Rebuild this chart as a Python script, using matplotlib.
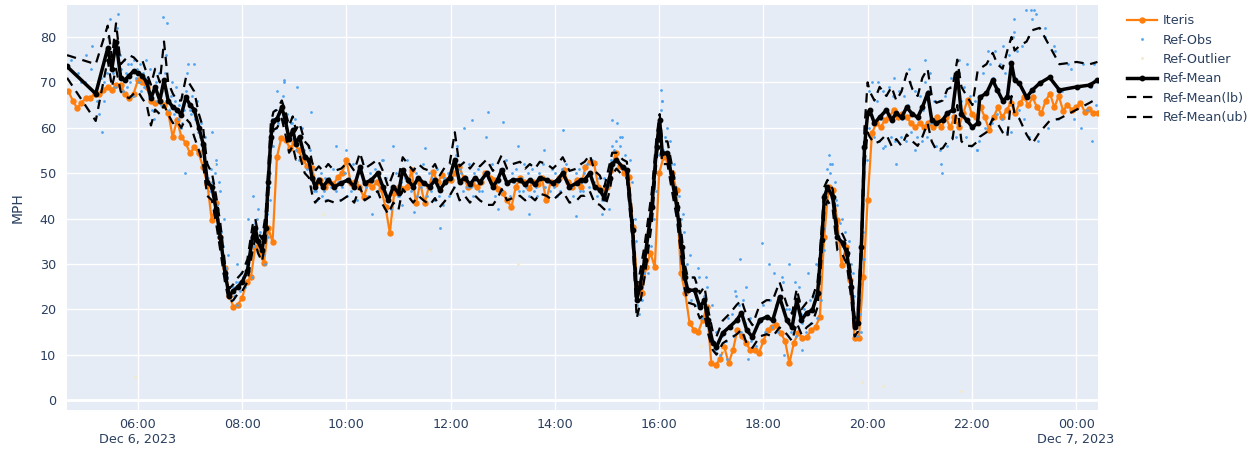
import numpy as np
import matplotlib
matplotlib.use("Agg")
import matplotlib.pyplot as plt
from matplotlib.lines import Line2D

plt.rcParams['font.family'] = ['DejaVu Sans']

# ---------------- DATA (hours since Dec 6, 2023 00:00) ----------------
# Iteris: 5-minute series from 04:40 to 00:25
iteris_start = 4 + 40 / 60
iteris_step = 5 / 60
iteris_vals = [
    68, 66, 64.3, 65.5,
    66.5, 66.5, 67.5, 67.5, 68.3, 69, 68.3, 69.4, 69.4, 67.5, 66.5, 67.5,
    70.5, 70, 69, 66, 65.4, 66, 65, 63.2, 58, 61.7, 58, 56.6,
    54.4, 55.7, 54.4, 51.3, 47.5, 39.6, 43.4, 36, 29, 23, 20.5, 21,
    22.5, 26, 27, 33.7, 32.4, 30.2, 37.9, 34.8, 53.5, 57.7, 57.3, 55.5,
    56.6, 55, 52.9, 51.5, 51.1, 47.8, 48.5, 46.9, 48, 47.5, 49.1, 50,
    52.9, 47.8, 48, 47, 44.7, 47.8, 46.9, 48, 46.5, 42.5, 36.8, 45.6,
    46.9, 46.5, 47, 50.7, 43.4, 47.8, 43.4, 47, 50.2, 48, 49.5, 48.5,
    48.5, 50, 51.3, 49, 46.9, 47.5, 47, 48, 50, 49, 48.5, 46.5,
    45.6, 44, 42.5, 47, 48.9, 48, 46.7, 48, 47.5, 49, 44, 48,
    47.5, 49, 50.7, 48, 47, 48.5, 47, 51.3, 52.5, 52.2, 47, 46.3,
    47, 50.7, 54.4, 51.5, 50, 49.1, 38.1, 24.9, 23.6, 29.3, 32.4, 29.3,
    50, 53.5, 52.9, 50, 46.3, 28, 23.6, 17, 15.5, 15, 17.6, 20.5,
    8.1, 7.7, 9, 11.7, 8.1, 11, 15.4, 14, 12.6, 11, 11, 10.4,
    13, 15.4, 16.1, 16.5, 14.8, 13, 8.1, 12.5, 14.8, 13.7, 13.9, 15.4,
    16.1, 18.3, 35.9, 46.9, 46.3, 39.6, 29.7, 33.7, 26.4, 13.7, 13.7, 27.1,
    44, 58.8, 61, 60.1, 61.7, 62.3, 63.9, 62.3, 63, 62.3, 61, 60.1,
    61, 60.1, 61, 60.1, 62.3, 60.1, 62.3, 60.1, 62.3, 60.1, 63.2, 66.1,
    63, 62.3, 64.5, 62.3, 59.5, 62.3, 64.5, 62.3, 63.9, 65.5, 63.2, 65.4,
    66.7, 65, 66.7, 64.5, 63.2, 66, 67.5, 64.5, 67, 63.8, 65, 64,
    64.5, 65.5, 63.5, 64.2, 63.2, 63.2,
]

mean_t = [
    4.64, 5.19, 5.42, 5.50, 5.58, 5.67, 5.75, 5.83, 5.92, 6.00,
    6.08, 6.17, 6.25, 6.33, 6.42, 6.50, 6.58, 6.67, 6.75, 6.83,
    6.92, 7.00, 7.08, 7.17, 7.25, 7.33, 7.42, 7.50, 7.58, 7.67,
    7.75, 7.83, 7.92, 8.00, 8.10, 8.20, 8.25, 8.30, 8.38, 8.45,
    8.50, 8.55, 8.60, 8.67, 8.76, 8.83, 8.90, 8.97, 9.03, 9.10,
    9.20, 9.28, 9.34, 9.40, 9.47, 9.55, 9.65, 9.77, 9.90, 10.03,
    10.15, 10.26, 10.35, 10.48, 10.60, 10.70, 10.80, 10.90, 11.00, 11.08,
    11.18, 11.28, 11.38, 11.48, 11.60, 11.70, 11.79, 11.90, 11.98, 12.08,
    12.17, 12.27, 12.37, 12.47, 12.56, 12.69, 12.81, 12.90, 12.98, 13.08,
    13.19, 13.33, 13.43, 13.52, 13.62, 13.71, 13.84, 13.96, 14.05, 14.15,
    14.28, 14.42, 14.50, 14.57, 14.67, 14.76, 14.86, 14.95, 15.05, 15.10,
    15.18, 15.30, 15.38, 15.49, 15.57, 15.63, 15.72, 15.86, 15.95, 16.01,
    16.06, 16.16, 16.24, 16.34, 16.43, 16.49, 16.55, 16.68, 16.78, 16.87,
    16.93, 17.03, 17.10, 17.22, 17.35, 17.49, 17.58, 17.68, 17.79, 17.93,
    18.06, 18.18, 18.31, 18.45, 18.55, 18.64, 18.73, 18.83, 18.94, 19.04,
    19.12, 19.17, 19.23, 19.33, 19.42, 19.52, 19.60, 19.69, 19.75, 19.81,
    19.88, 19.94, 20.00, 20.04, 20.13, 20.23, 20.36, 20.46, 20.55, 20.65,
    20.75, 20.86, 20.96, 21.05, 21.15, 21.23, 21.32, 21.44, 21.53, 21.63,
    21.72, 21.80, 21.90, 22.01, 22.11, 22.15, 22.28, 22.40, 22.49, 22.59,
    22.68, 22.76, 22.82, 22.91, 23.05, 23.16, 23.30, 23.49, 23.68, 24.01,
    24.26, 24.41,
]
mean_v = [
    73.5, 67.5, 77.5, 73.0, 79.0, 71.0, 70.5, 71.5, 72.5, 72.0,
    71.5, 70.0, 66.5, 69.0, 66.0, 70.5, 66.0, 64.5, 64.0, 62.8,
    66.7, 65.0, 64.0, 60.0, 56.5, 48.0, 47.0, 42.0, 36.0, 28.0,
    23.0, 24.0, 25.0, 26.0, 28.5, 36.0, 38.0, 35.0, 33.0, 38.0,
    48.0, 58.0, 61.5, 62.0, 64.5, 61.5, 57.5, 59.5, 56.5, 58.0,
    53.5, 53.0, 49.0, 47.0, 48.5, 47.0, 48.5, 47.0, 47.8, 48.5,
    47.0, 51.3, 47.8, 48.5, 50.0, 47.0, 44.0, 47.0, 45.6, 50.7,
    48.5, 47.0, 49.0, 47.8, 47.0, 48.5, 46.3, 48.0, 49.0, 53.0,
    48.0, 49.0, 47.5, 49.0, 48.0, 50.0, 47.0, 48.5, 50.7, 47.8,
    48.5, 48.5, 47.5, 48.5, 47.5, 49.0, 48.5, 47.8, 48.5, 50.0,
    47.0, 47.8, 48.5, 48.5, 50.0, 47.0, 46.3, 44.5, 49.0, 52.0,
    52.9, 51.3, 50.7, 37.4, 22.0, 24.9, 30.8, 42.5, 55.7, 61.7,
    54.4, 54.4, 49.1, 42.5, 33.7, 27.1, 24.2, 24.2, 20.5, 22.0,
    17.6, 12.6, 11.7, 14.8, 16.1, 17.6, 19.2, 15.4, 13.9, 17.6,
    18.3, 17.6, 22.7, 17.6, 16.0, 22.0, 17.6, 19.2, 19.8, 23.5,
    35.2, 44.7, 46.9, 44.7, 35.9, 34.6, 32.4, 24.9, 16.1, 17.0,
    33.7, 55.7, 63.2, 63.9, 61.0, 62.3, 63.9, 61.7, 63.2, 62.3,
    64.5, 63.0, 62.3, 64.5, 67.6, 61.7, 61.0, 61.7, 63.2, 63.9,
    72.0, 63.0, 61.7, 60.1, 61.0, 66.7, 67.6, 70.5, 68.3, 66.0,
    66.7, 74.2, 70.5, 69.8, 66.7, 68.3, 69.8, 71.1, 68.3, 69.0,
    69.4, 70.5,
]
mean_lb = [
    71, 61.5, 75, 69, 73, 68, 67, 66.5, 67.5, 68,
    66.5, 65, 60.5, 64, 63, 65, 63, 61, 61.5, 60,
    62, 61, 58, 55, 52, 45, 44, 39, 33, 26,
    21.5, 22, 23.5, 24, 26, 33, 35.5, 32.5, 30.5, 35,
    45, 55, 59.5, 60, 62, 58.5, 54.5, 56, 53, 54,
    50, 49, 45.5, 43.5, 44.5, 43.5, 44, 43.5, 44, 45,
    43.5, 47, 44, 45, 46, 43, 41, 43.5, 42, 46.5,
    45, 43.5, 45, 44, 43, 44.5, 42.5, 44, 45, 47,
    44, 45, 43.5, 45, 44, 43, 43, 44.5, 46.5, 44,
    44.5, 45, 44, 45, 44, 45.5, 45, 44, 45, 46,
    43.5, 44, 45, 45, 46, 43.5, 43, 42, 46, 49.5,
    51, 49.5, 49, 35, 18, 21, 27, 39, 53, 59.5,
    52, 52, 46.5, 40, 31, 24.5, 21.5, 21, 18, 19,
    15, 11, 10, 12.5, 13.5, 14.5, 15.5, 12.5, 11.5, 14,
    14.5, 14, 16, 14.5, 13, 17, 14.5, 16, 17, 20.5,
    32, 42, 44, 42, 33, 32, 30, 22, 14, 15,
    31, 52, 59, 58, 56.5, 57, 58.5, 56, 57.5, 56,
    58.5, 57, 56, 58, 61, 57, 55, 55.5, 57, 57.5,
    65, 57, 56, 56, 57, 58, 59, 62, 61, 59,
    58, 67, 63, 62, 58.5, 56.5, 59, 61.5, 62, 64,
    65.5, 66.5,
]
mean_ub = [
    76, 74, 82.5, 75.5, 83, 74, 75, 76, 75.5, 74.5,
    75, 72, 69.5, 73, 70, 79, 70, 67.5, 66, 66,
    71, 69.5, 68, 63, 60, 52, 50, 45, 39, 30,
    24.5, 25.5, 27, 28, 31, 38.5, 40, 37, 35.5, 41,
    51, 61, 63.5, 64, 66, 63.5, 60.5, 62.5, 59.5, 61,
    57, 56, 52.5, 50.5, 51.5, 50.5, 52, 50.5, 51, 52.5,
    50.5, 54.5, 51, 52, 53, 50.5, 47, 50, 49, 53.5,
    52, 50.5, 52, 51, 50.5, 52, 49.5, 51.5, 52, 59,
    51.5, 52.5, 51, 52.5, 51.5, 53, 50.5, 52, 54, 51,
    52, 52.5, 51, 52, 51, 52.5, 52, 51, 52, 53.5,
    50.5, 51, 52, 52.5, 54, 50.5, 49.5, 47, 52, 54.5,
    54.5, 53, 52.5, 40, 25, 28, 34, 46, 58, 63,
    57, 57, 52, 45.5, 36.5, 30, 27, 27, 23.5, 25,
    20.5, 15, 14, 17.5, 19, 21, 22, 18.5, 16.5, 21,
    22, 22, 26, 21, 19, 24.5, 20, 21.5, 22.5, 26,
    38, 47, 48.5, 46.5, 38, 36.5, 34.5, 27, 18, 19,
    36, 60, 70, 68, 66, 69, 67, 69, 66, 68,
    72, 68.5, 67, 71, 73, 67, 65.5, 66, 68.5, 69,
    75, 69, 67, 65, 72.5, 73, 74, 76.5, 74, 73,
    77, 80, 77, 78, 79, 81.5, 82, 78, 74, 74.5,
    74, 74.5,
]

# Ref-Obs: individual observations, grouped by the Ref-Mean interval they fall in
obs_groups = [
    [75, 72, 70, 78], [66, 63, 59, 70, 72], [80, 84, 74], [72, 76, 69], [82, 85, 76],
    [73, 68, 75], [72, 69, 74], [70, 74, 67], [75, 71, 73], [70, 74, 68],
    [72, 69, 75], [71, 67, 73], [64, 68, 62], [70, 66, 72], [65, 68, 84.5],
    [72, 76, 83], [64, 67, 70], [63, 66, 69], [62, 65, 60], [61, 64, 67],
    [68, 72, 74, 64], [63, 67, 74], [62, 66, 59], [58, 61, 55], [55, 58, 52],
    [49, 46, 51], [48, 45, 50, 52], [43, 40, 46], [37, 34, 40], [29, 27, 32],
    [23, 22, 25], [23, 26, 21], [26, 24, 28], [27, 25, 30], [29, 31, 27],
    [36, 38, 34, 39], [38, 40, 36], [35, 37, 33], [32, 35, 30], [38, 41, 36],
    [47, 50, 44], [58, 62, 56], [62, 64, 60, 68], [61, 63, 66], [64, 67, 70, 62],
    [60, 63, 58], [58, 55, 61, 61], [60, 57, 62], [55, 58, 53], [57, 60, 55],
    [54, 51, 56], [52, 55, 50], [49, 46, 51], [46, 44, 49], [48, 50, 45],
    [46, 49, 44, 52], [49, 47, 51], [46, 48, 44], [47, 50, 45], [49, 46, 52],
    [47, 44, 50], [51, 53, 48], [47, 45, 50], [48, 51, 46], [50, 48, 53],
    [46, 49, 44], [44, 42, 47], [47, 50, 45], [45, 48, 43], [51, 49, 53],
    [48, 46, 51], [47, 50, 45], [49, 47, 52], [48, 45, 50], [46, 49, 44],
    [48, 51, 45], [46, 43, 49], [48, 50, 45], [49, 52, 47], [54, 56, 51],
    [48, 50, 46, 60], [49, 47, 52], [47, 45, 50], [49, 51, 46], [48, 46, 50, 58],
    [50, 48, 52], [47, 45, 49], [48, 51, 46], [51, 49, 53], [48, 45, 50],
    [48, 51, 46], [49, 46, 52], [47, 50, 45], [48, 51, 46], [47, 45, 50],
    [49, 52, 47], [48, 46, 51], [47, 50, 45], [48, 46, 51], [50, 52, 47],
    [47, 45, 50], [48, 51, 46], [48, 46, 50], [49, 52, 47], [50, 53, 48],
    [47, 45, 49], [46, 44, 49], [44, 47, 42], [50, 53, 56], [52, 55, 57],
    [53, 56, 58], [51, 54, 49], [50, 53, 48], [37, 40, 35], [21, 24, 19],
    [25, 22, 28], [31, 28, 34], [43, 40, 46], [56, 58, 54], [62, 64, 66],
    [55, 58, 60], [54, 57, 52], [49, 52, 47], [42, 45, 40], [34, 31, 37],
    [27, 25, 30], [24, 22, 27], [24, 21, 27], [21, 18, 23], [22, 20, 25],
    [18, 15, 21], [13, 11, 15], [12, 10, 14], [15, 13, 18], [16, 19, 14, 23],
    [18, 21, 15], [19, 22, 17, 25], [15, 18, 13], [14, 12, 17], [18, 21, 15],
    [18, 22, 16], [18, 21, 15], [23, 26, 20], [17, 20, 15], [16, 19, 14],
    [22, 25, 19], [17, 20, 15], [19, 22, 17], [20, 23, 18], [24, 27, 22],
    [35, 38, 33], [45, 48, 51], [47, 50, 52], [45, 48, 43], [36, 39, 34],
    [35, 37, 32], [32, 35, 30], [25, 28, 23], [16, 18, 14], [17, 19, 15],
    [34, 37, 31], [56, 60, 53], [63, 68, 60], [64, 70, 58], [61, 66, 57],
    [62, 68, 56], [64, 69, 58], [62, 67, 57, 52], [63, 68, 58], [62, 67, 57],
    [65, 70, 59], [63, 68, 58], [62, 67, 57], [64, 70, 58], [68, 72, 61],
    [62, 66, 56], [61, 66, 55, 50], [62, 67, 56], [63, 69, 58], [64, 69, 58],
    [72, 75, 66], [63, 69, 58], [62, 67, 56], [60, 66, 55], [61, 67, 57],
    [67, 72, 60], [68, 74, 61], [71, 77, 63], [68, 74, 62], [66, 72, 59],
    [67, 76, 59], [74, 80, 84], [71, 77, 64], [70, 78, 62, 86], [67, 80, 58, 86, 84],
    [68, 85, 57], [70, 82, 60], [71, 78, 62], [68, 74, 62], [69, 74, 64],
    [69, 74, 65], [70, 74, 66],
]
# additional scattered observations (time, value)
obs_extra_t = [
    4.90, 5.00, 5.10, 5.30, 5.35, 6.90, 7.42, 7.50, 7.55, 7.90,
    8.12, 8.20, 8.30, 8.80, 9.05, 9.33, 9.60, 9.80, 10.00, 10.50,
    10.70, 10.90, 11.30, 11.50, 11.79, 12.40, 12.71, 12.90, 13.00, 13.30,
    13.50, 13.80, 14.15, 14.40, 14.90, 15.10, 15.20, 15.25, 16.03, 16.05,
    16.45, 16.60, 16.75, 16.90, 17.30, 17.45, 17.55, 17.70, 17.98, 18.10,
    18.20, 18.35, 18.40, 18.50, 18.60, 18.75, 18.85, 19.00, 19.25, 19.28,
    19.40, 19.50, 20.20, 20.30, 20.50, 20.80, 20.90, 21.10, 21.40, 21.60,
    21.90, 22.10, 22.30, 22.60, 22.80, 23.20, 23.40, 23.60, 23.90, 24.10,
    24.30,
]
obs_extra_v = [
    70, 76, 73, 71, 66, 50, 59, 53, 48, 30,
    40, 45, 42, 70.5, 69, 63.5, 44, 56, 55, 41,
    53, 56, 41.5, 55.5, 38, 61.7, 63.4, 42, 61.2, 56,
    41, 55, 59.5, 40.5, 41, 61.7, 61, 58, 68.3, 66,
    41, 32, 29, 27, 9, 24, 31, 9, 34.6, 30,
    28, 27, 10, 30, 26, 11, 28, 30, 54, 52,
    44, 40, 70, 55.5, 71, 73, 55, 75, 52, 71,
    74, 55, 77, 78, 81, 86, 80, 77, 73, 60,
    57,
]

# Ref-Outlier: a few rejected observations
outlier_t = [5.95, 7.45, 9.55, 10.9, 11.6, 13.3, 16.8, 17.2, 19.9, 20.3, 21.8]
outlier_v = [5, 52, 41, 40, 33, 30, 12, 11, 4, 3, 2]

xtick_pos = [6, 8, 10, 12, 14, 16, 18, 20, 22, 24]
xtick_lab = ["06:00\nDec 6, 2023", "08:00", "10:00", "12:00", "14:00", "16:00",
             "18:00", "20:00", "22:00", "00:00\nDec 7, 2023"]
ytick_pos = [0, 10, 20, 30, 40, 50, 60, 70, 80]

# ---------------- FIGURE ----------------
TXT = '#2a3f5f'
BG = '#e5ecf6'
ORANGE = '#ff7f0e'
BLUE = '#4fa3f0'
PALE = '#f4e9c4'

fig = plt.figure(figsize=(12.55, 4.5), dpi=100)
ax = fig.add_axes([67 / 1255, 1 - 410 / 450, (1098 - 67) / 1255, 405 / 450])
ax.set_facecolor(BG)
for s in ax.spines.values():
    s.set_visible(False)

iteris_t = iteris_start + iteris_step * np.arange(len(iteris_vals))

# obs positions spread inside each mean interval
obs_t, obs_v = [], []
for i, grp in enumerate(obs_groups):
    t0 = mean_t[i]
    t1 = mean_t[i + 1] if i + 1 < len(mean_t) else t0 + 0.1
    n = len(grp)
    for j, v in enumerate(grp):
        obs_t.append(t0 + (j + 0.5) / n * (t1 - t0))
        obs_v.append(v)
obs_t += obs_extra_t
obs_v += obs_extra_v

DASH = (4.2, 3.0)

ax.plot(iteris_t, iteris_vals, color=ORANGE, lw=1.6, marker='o', ms=3.6,
        mec=ORANGE, mfc=ORANGE, zorder=3)
ax.plot(obs_t, obs_v, ls='none', marker='o', ms=2.0, color=BLUE, mec='none', zorder=4)
ax.plot(outlier_t, outlier_v, ls='none', marker='o', ms=2.0, color=PALE, mec='none', zorder=4)
ax.plot(mean_t, mean_v, color='black', lw=2.5, marker='o', ms=3.2, zorder=6)
ax.plot(mean_t, mean_lb, color='black', lw=1.6, dashes=DASH, zorder=5)
ax.plot(mean_t, mean_ub, color='black', lw=1.6, dashes=DASH, zorder=5)

ax.set_xlim(4.639, 24.42)
ax.set_ylim(-2.2, 87.05)
ax.set_xticks(xtick_pos)
ax.set_xticklabels(xtick_lab)
ax.set_yticks(ytick_pos)
ax.grid(True, color='white', lw=1.0)
ax.axhline(0, color='white', lw=2.0, zorder=1)
ax.set_axisbelow(True)
ax.tick_params(axis='both', length=0, colors=TXT, labelsize=9.2)
ax.tick_params(axis='x', pad=6)
ax.tick_params(axis='y', pad=8)
ax.set_ylabel('MPH', color=TXT, fontsize=10, labelpad=11)

handles = [
    Line2D([], [], color=ORANGE, lw=1.6, marker='o', ms=3.6),
    Line2D([], [], ls='none', marker='o', ms=2.0, color=BLUE, mec='none'),
    Line2D([], [], ls='none', marker='o', ms=2.0, color=PALE, mec='none'),
    Line2D([], [], color='black', lw=2.5, marker='o', ms=3.2),
    Line2D([], [], color='black', lw=1.6, dashes=DASH),
    Line2D([], [], color='black', lw=1.6, dashes=DASH),
]
labels = ['Iteris', 'Ref-Obs', 'Ref-Outlier', 'Ref-Mean', 'Ref-Mean(lb)', 'Ref-Mean(ub)']
leg = fig.legend(handles, labels, loc='upper left', bbox_to_anchor=(1122 / 1255, 1 - 9 / 450),
                 frameon=False, fontsize=9.2, handlelength=2.3, handletextpad=0.5,
                 labelspacing=0.5, borderaxespad=0)
for t in leg.get_texts():
    t.set_color(TXT)

fig.savefig('out.png', dpi=100, facecolor='white')
